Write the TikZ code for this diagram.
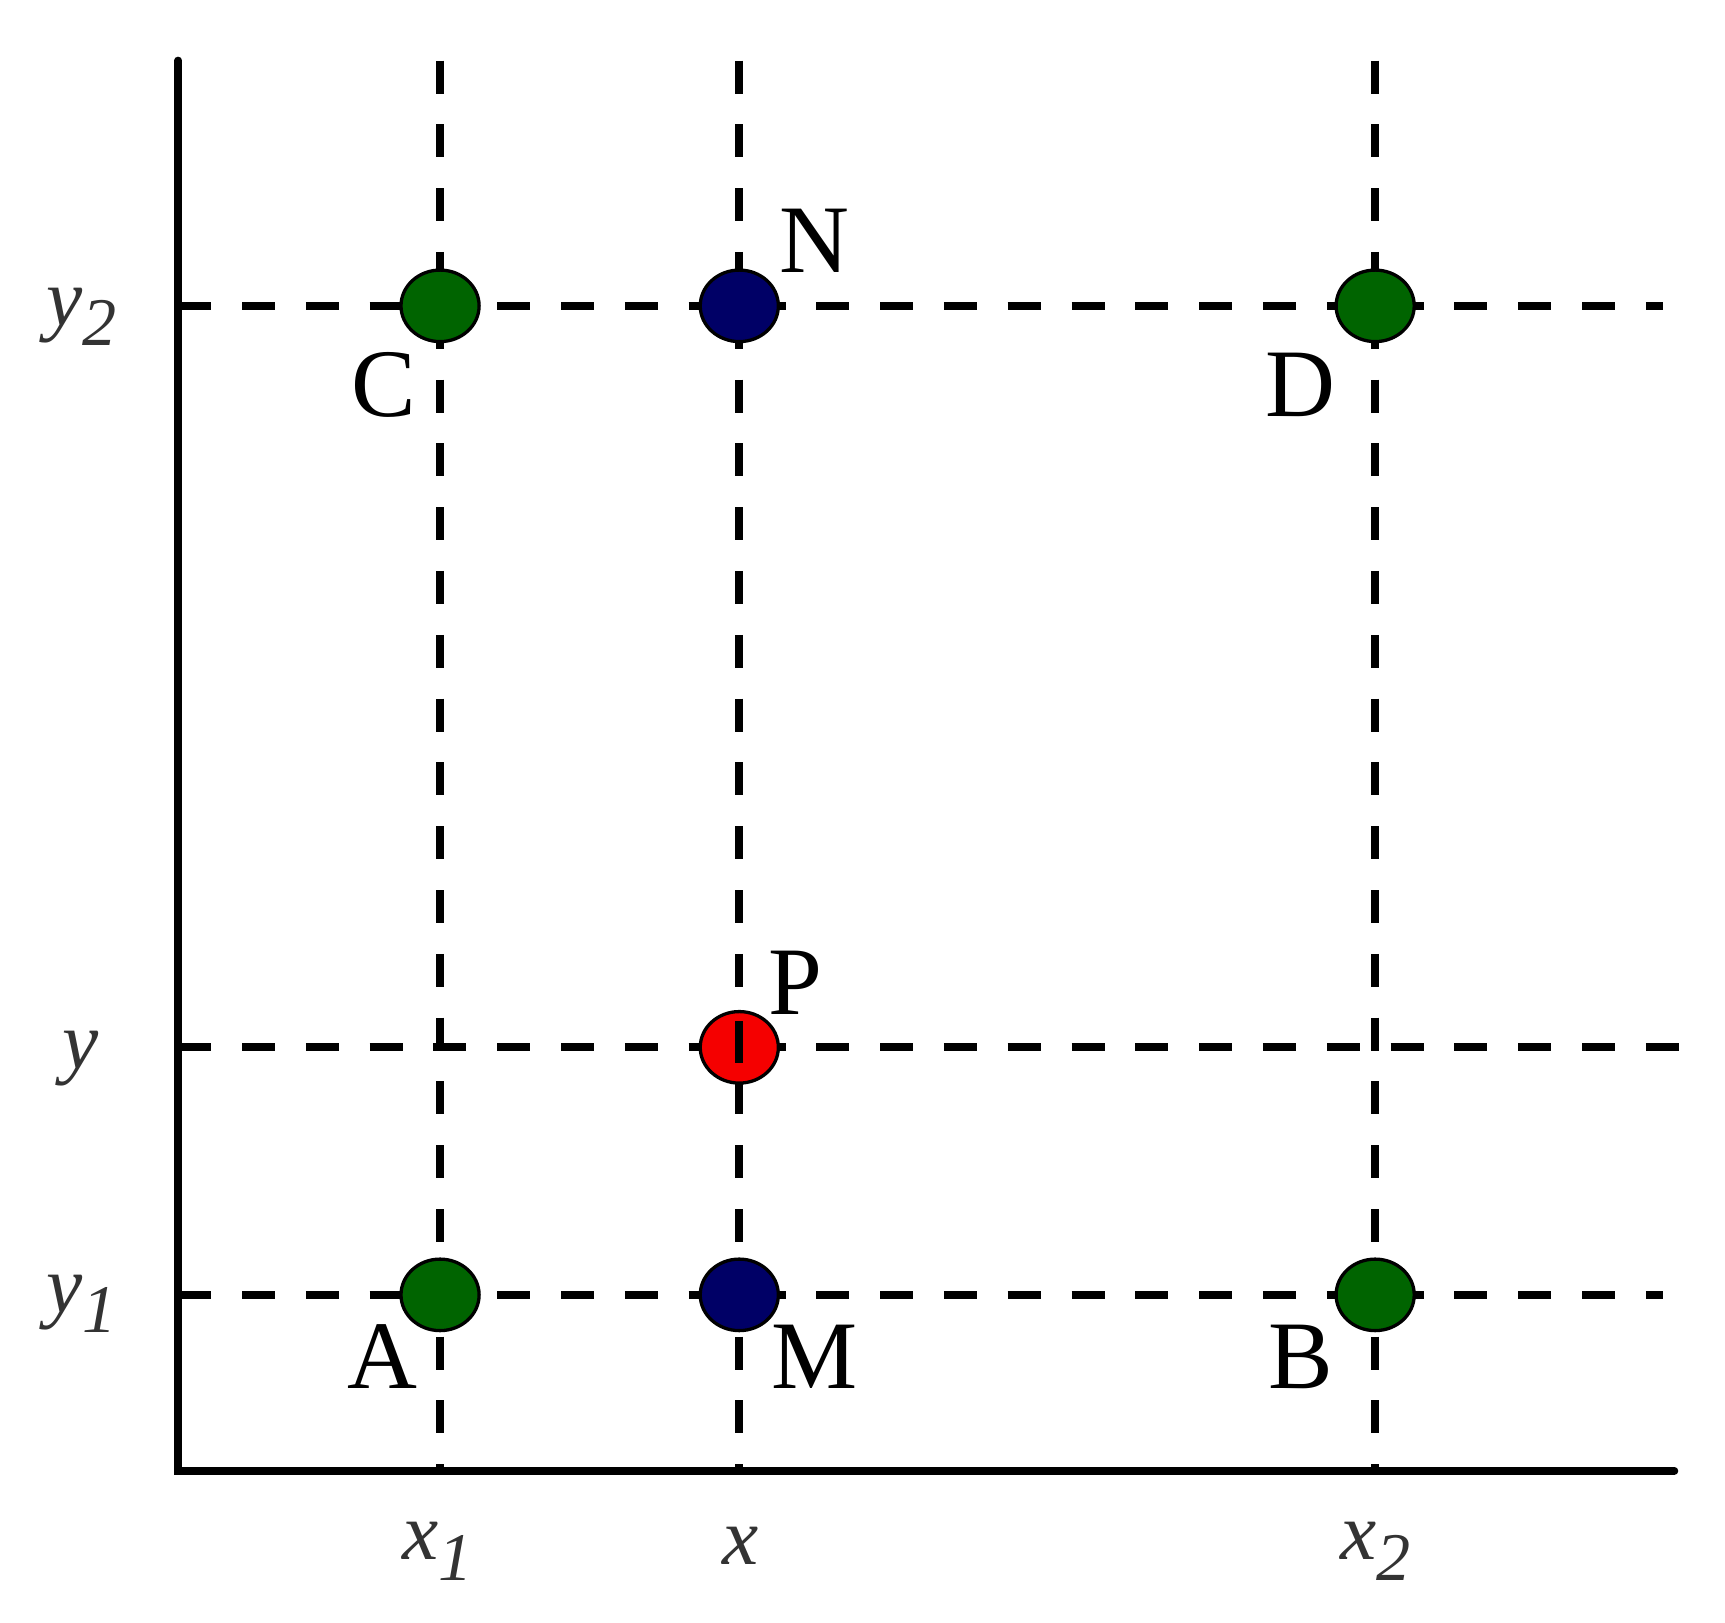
\documentclass[tikz,border=0pt]{standalone}
\usepackage{fontspec}
\setmainfont{Liberation Serif}
\usetikzlibrary{shapes.geometric}
\definecolor{dotgreen}{RGB}{0,100,0}
\definecolor{dotnavy}{RGB}{0,0,102}
\definecolor{dotred}{RGB}{245,0,0}
\newcommand\sublab[2]{\textit{#1}\raisebox{-0.25em}{\fontsize{62}{62}\selectfont\textit{#2}}}
\begin{document}
\begin{tikzpicture}[x=1pt,y=-1pt,
  axisline/.style={line width=7pt},
  gridline/.style={line width=7.5pt, dash pattern=on 30pt off 28pt},
  dot/.style={ellipse, minimum width=71pt, minimum height=65pt, inner sep=0pt, draw=black, line width=3pt},
  ptlabel/.style={font=\fontsize{88}{88}\selectfont, inner sep=0pt},
  axlabel/.style={font=\fontsize{74}{74}\selectfont, text=black!80, inner sep=0pt}]
\useasboundingbox (0,0) rectangle (1568,1475);
% axis coordinates
\coordinate (O) at (162,1337);
\coordinate (Ytop) at (162,55);
\coordinate (Xend) at (1522,1337);
% grid line ends
\coordinate (x1t) at (400,55);  \coordinate (x1b) at (400,1337);
\coordinate (xt) at (672,55);   \coordinate (xb) at (672,1337);
\coordinate (x2t) at (1250,55); \coordinate (x2b) at (1250,1337);
\coordinate (y2l) at (162,278); \coordinate (y2r) at (1512,278);
\coordinate (yl) at (162,952);  \coordinate (yr) at (1527,952);
\coordinate (y1l) at (162,1177); \coordinate (y1r) at (1512,1177);
% dashed grid
\draw[gridline] (x1t) -- (x1b);
\draw[gridline] (xt) -- (xb);
\draw[gridline] (x2t) -- (x2b);
\draw[gridline] (y2l) -- (y2r);
\draw[gridline] (yl) -- (yr);
\draw[gridline] (y1l) -- (y1r);
% axes
\draw[axisline, line cap=round] (Ytop) -- (O) -- (Xend);
% dots
\node[dot, fill=dotgreen] (C) at (400,278) {};
\node[dot, fill=dotnavy]  (N) at (672,278) {};
\node[dot, fill=dotgreen] (D) at (1250,278) {};
\node[dot, fill=dotred]   (P) at (672,952) {};
\node[dot, fill=dotgreen] (A) at (400,1177) {};
\node[dot, fill=dotnavy]  (M) at (672,1177) {};
\node[dot, fill=dotgreen] (B) at (1250,1177) {};
% dash visible through P
\begin{scope}
\clip (P.center) ellipse (33pt and 30pt);
\draw[line width=7.5pt] ([yshift=-14pt]P.center) -- ([yshift=24pt]P.center);
\end{scope}
% point labels
\node[ptlabel] (lC) at (349,350) {C};
\node[ptlabel] (lN) at (740,219) {N};
\node[ptlabel] (lD) at (1182,350) {D};
\node[ptlabel] (lP) at (723,893) {P};
\node[ptlabel] (lA) at (348,1233) {A};
\node[ptlabel] (lM) at (740,1233) {M};
\node[ptlabel] (lB) at (1182,1233) {B};
% axis labels
\node[axlabel] (ly2) at (74,288) {\sublab{y}{2}};
\node[axlabel] (ly) at (73,962) {\textit{y}};
\node[axlabel] (ly1) at (74,1185) {\sublab{y}{1}};
\node[axlabel] (lx1) at (398,1410) {\sublab{x}{1}};
\node[axlabel] (lx) at (673,1405) {\textit{x}};
\node[axlabel] (lx2) at (1250,1410) {\sublab{x}{2}};
\end{tikzpicture}
\end{document}
